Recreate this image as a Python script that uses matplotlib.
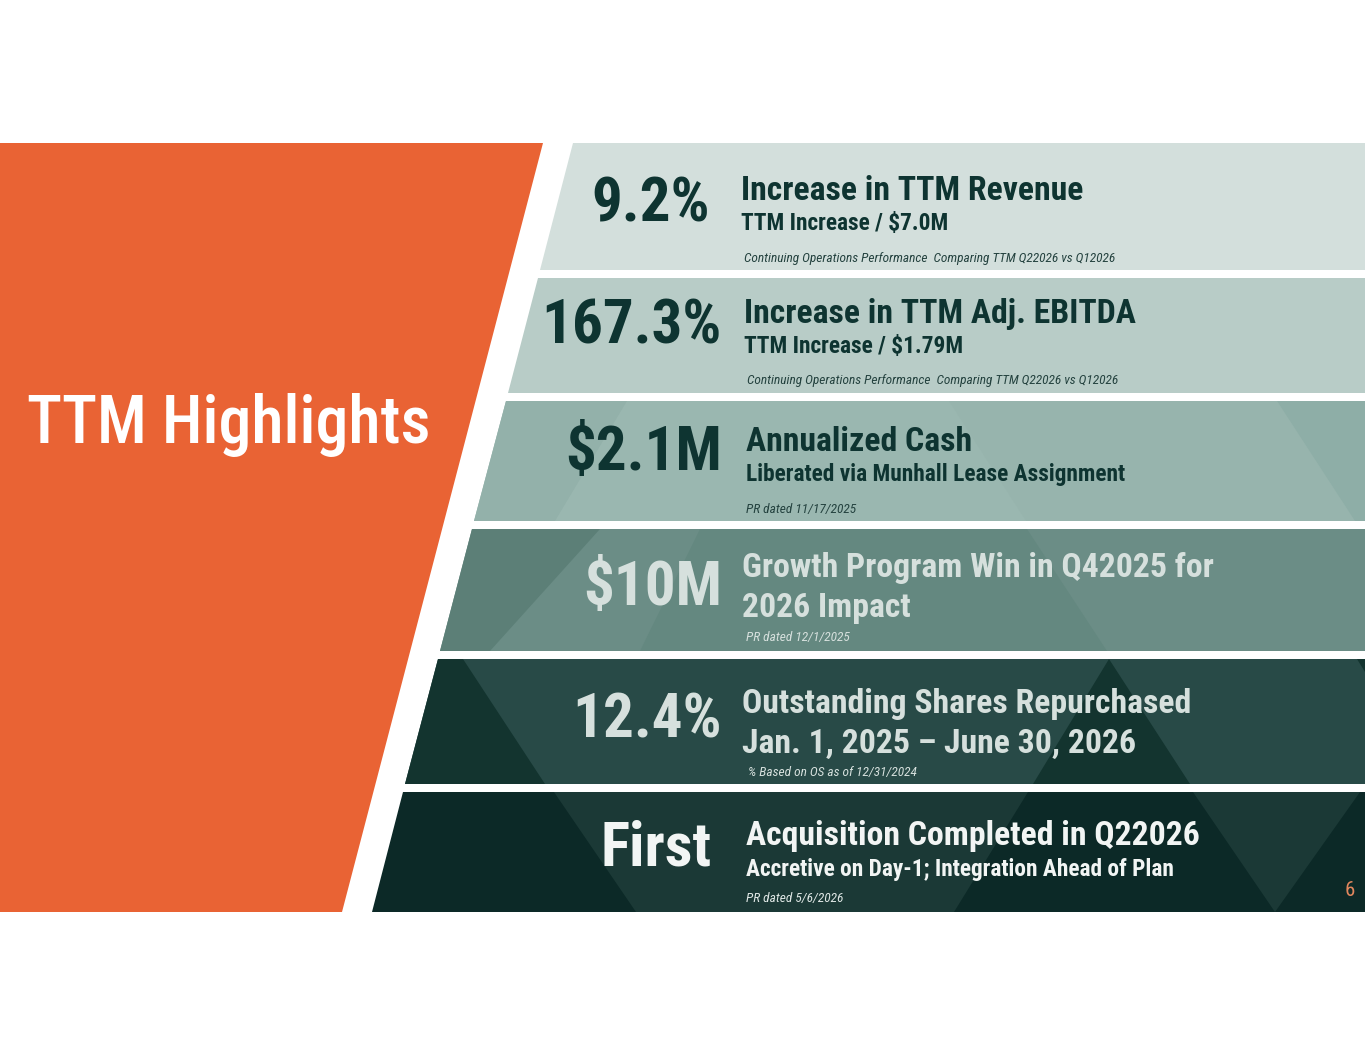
import os
import matplotlib
matplotlib.use("Agg")
import matplotlib.pyplot as plt
from matplotlib.patches import Polygon
from matplotlib import font_manager as fm

# ---------------- data ----------------
headline_values = ["9.2%", "167.3%", "$2.1M", "$10M", "12.4%", "First"]
titles = [
    "Increase in TTM Revenue",
    "Increase in TTM Adj. EBITDA",
    "Annualized Cash",
    "Growth Program Win in Q42025 for\n2026 Impact",
    "Outstanding Shares Repurchased\nJan. 1, 2025 \u2013 June 30, 2026",
    "Acquisition Completed in Q22026",
]
subtitles = [
    "TTM Increase / $7.0M",
    "TTM Increase / $1.79M",
    "Liberated via Munhall Lease Assignment",
    "",
    "",
    "Accretive on Day-1; Integration Ahead of Plan",
]
notes = [
    "Continuing Operations Performance  Comparing TTM Q22026 vs Q12026",
    "Continuing Operations Performance  Comparing TTM Q22026 vs Q12026",
    "PR dated 11/17/2025",
    "PR dated 12/1/2025",
    "% Based on OS as of 12/31/2024",
    "PR dated 5/6/2026",
]
slide_title = "TTM Highlights"
page_number = "6"

# ---------------- fonts ----------------
FAM_PRIORITY = ["roboto", "liberation", "opensans", "open", "noto", "dejavu"]
WEIGHT_KEYS = ("semibold", "extrabold", "black", "medium", "light", "thin", "bold")


def find_font(want, italic):
    best, best_score = None, None
    for f in fm.fontManager.ttflist:
        fn = os.path.basename(f.fname).lower().replace(" ", "").replace("_", "")
        if not ("condensed" in fn or "narrow" in fn):
            continue
        if "extracondensed" in fn or "ultracondensed" in fn:
            cscore = 2
        elif "semicondensed" in fn:
            cscore = 1
        else:
            cscore = 0
        is_it = ("italic" in fn) or ("oblique" in fn)
        if is_it != italic:
            continue
        stripped = fn
        found = "regular"
        for k in WEIGHT_KEYS:
            if k in stripped:
                found = k
                break
        if found != want:
            continue
        fam = len(FAM_PRIORITY)
        for k, name in enumerate(FAM_PRIORITY):
            if fn.startswith(name):
                fam = k
                break
        score = (cscore, fam)
        if best_score is None or score < best_score:
            best, best_score = f.fname, score
    return best


def make_fp(want, italic, fallback_weight):
    path = find_font(want, italic)
    if path is None and italic:
        path = find_font(want, False)
    if path is not None:
        return fm.FontProperties(fname=path)
    return fm.FontProperties(family=["Lato", "DejaVu Sans"],
                             weight=fallback_weight,
                             style="italic" if italic else "normal")


FP_BOLD = make_fp("bold", False, "bold")
FP_REG = make_fp("regular", False, "normal")
FP_IT = make_fp("regular", True, "normal")
_med = find_font("medium", False)
FP_MED = fm.FontProperties(fname=_med) if _med else FP_REG

# ---------------- layout / style ----------------
W, H = 1365, 1055
ORANGE = "#e96334"
band_top = [143, 278, 401, 529, 659, 792]
band_bot = [270, 393, 521, 651, 784, 912]
band_col = ["#d3dfdc", "#b8ccc7", "#9ab7b0", "#6b8d86", "#284a47", "#0c2927"]
num_col = ["#0e3431", "#0e3431", "#0e3431", "#d6e0dd", "#d6e0dd", "#f2f5f4"]
txt_col = ["#0e3431", "#0e3431", "#0e3431", "#d6e0dd", "#d6e0dd", "#f2f5f4"]
note_col = ["#24423f", "#24423f", "#24423f", "#d6e0dd", "#d6e0dd", "#dfe7e5"]
num_right = [710, 722, 722, 722, 722, 712]
num_base = [222, 343, 470, 605, 738, 866]
title_x = [741, 744, 746, 742, 742, 746]
title_base = [200, 323, 451, 577, 713, 845]
sub_base = [230, 353, 481, 0, 0, 876]
note_x = [744, 747, 746, 746, 748, 746]
note_base = [262, 384, 513, 641, 776, 902]
SLOPE = 201.0 / 769.0


def left_edge(y, x0=573.0, y0=143.0):
    return x0 - SLOPE * (y - y0)


fig = plt.figure(figsize=(W / 100, H / 100), dpi=100)
ax = fig.add_axes([0, 0, 1, 1])
ax.set_xlim(0, W)
ax.set_ylim(H, 0)
ax.axis("off")
fig.patch.set_facecolor("white")
renderer = fig.canvas.get_renderer()


def fit_size(text, fp, target_px, max_size):
    t = fig.text(0, 0, text, fontproperties=fp, fontsize=20)
    w = t.get_window_extent(renderer).width
    t.remove()
    return min(max_size, 20.0 * target_px / w)


SZ_NUM = fit_size("167.3%", FP_BOLD, 180, 48)
SZ_TITLE = fit_size("Increase in TTM Adj. EBITDA", FP_BOLD, 391, 27)
SZ_SUB = fit_size("Liberated via Munhall Lease Assignment", FP_BOLD, 379, 17)
SZ_NOTE = fit_size(notes[0], FP_IT, 372, 10)
SZ_HEAD = fit_size(slide_title, FP_MED, 403, 52)


def put(x, y, s, fp, size, color, ha="left"):
    ax.text(x, y, s, fontproperties=fp, fontsize=size, color=color,
            ha=ha, va="baseline")


# orange panel
ax.add_patch(Polygon([(0, 143), (543, 143), (342, 912), (0, 912)],
                     closed=True, facecolor=ORANGE, edgecolor="none"))
put(27, 443, slide_title, FP_MED, SZ_HEAD, "white")

# overlay shapes (subtle background triangles) per band
overlays = {
    2: [([(0, 401), (627, 401), (555, 521), (0, 521)], "#93b1aa"),
        ([(949, 401), (1277, 401), (1355, 521), (1026, 521)], "#97b4ad"),
        ([(1277, 401), (1365, 401), (1365, 521), (1355, 521)], "#8eaea7")],
    3: [([(700, 529), (1027, 529), (1107, 651), (640, 651)], "#648880"),
        ([(0, 529), (600, 529), (490, 651), (0, 651)], "#5c7f77")],
    4: [([(0, 659), (463, 659), (545, 784), (0, 784)], "#13342f"),
        ([(1109, 659), (1190, 784), (1033, 784)], "#13342f"),
        ([(1357, 659), (1365, 659), (1365, 672)], "#13342f")],
    5: [([(554, 792), (1028, 792), (954, 912), (636, 912)], "#1b3936"),
        ([(1193, 792), (1360, 792), (1275, 912)], "#1b3936")],
}

for i in range(6):
    yt, yb = band_top[i], band_bot[i]
    poly = [(left_edge(yt), yt), (W, yt), (W, yb), (left_edge(yb), yb)]
    band = Polygon(poly, closed=True, facecolor=band_col[i], edgecolor="none")
    ax.add_patch(band)
    for verts, col in overlays.get(i, []):
        p = Polygon(verts, closed=True, facecolor=col, edgecolor="none")
        ax.add_patch(p)
        p.set_clip_path(band)

    put(num_right[i], num_base[i], headline_values[i], FP_BOLD, SZ_NUM,
        num_col[i], ha="right")
    for k, line in enumerate(titles[i].split("\n")):
        put(title_x[i], title_base[i] + 40 * k, line, FP_BOLD, SZ_TITLE, txt_col[i])
    if subtitles[i]:
        put(title_x[i], sub_base[i], subtitles[i], FP_BOLD, SZ_SUB, txt_col[i])
    put(note_x[i], note_base[i], notes[i], FP_IT, SZ_NOTE, note_col[i])

ax.text(1350, 890, page_number, fontproperties=FP_REG, fontsize=15,
        color="#e2875e", ha="center", va="center")

fig.savefig("out.png", dpi=100, facecolor="white")
